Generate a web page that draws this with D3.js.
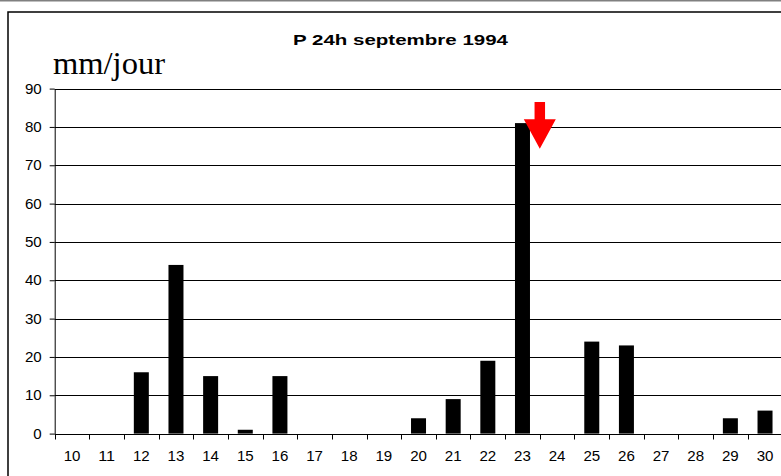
<!DOCTYPE html>
<html>
<head>
<meta charset="utf-8">
<script src="https://cdn.jsdelivr.net/npm/d3@7"></script>
<style>
  html, body { margin: 0; padding: 0; background: #fff; }
  svg { display: block; }
</style>
</head>
<body>
<svg id="chart" width="781" height="476"></svg>
<script>
// Daily rainfall, September 1994 (days 10 to 30)
const days = ["10","11","12","13","14","15","16","17","18","19","20",
              "21","22","23","24","25","26","27","28","29","30"];
const rain = [0, 0, 16, 44, 15, 1, 15, 0, 0, 0, 4,
              9, 19, 81, 0, 24, 23, 0, 0, 4, 6];
const yTicks = [0, 10, 20, 30, 40, 50, 60, 70, 80, 90];
const title = "P 24h septembre 1994";
const unit = "mm/jour";
// Marker arrow: placed at the start of day 24, pointing from 86.5 down to 74.3 mm
const arrowDay = "24";
const arrowTop = 86.5, arrowHeadBase = 82, arrowTip = 74.3;

(function draw() {
  const svg = d3.select("#chart");
  const W = 781, H = 476;
  const plotLeft = 54.7, plotTop = 88.6, plotBottom = 433.6;
  const step = 34.65;
  const plotRight = plotLeft + step * days.length;
  const sans = "Liberation Sans, Arial, sans-serif";
  const digitW = 8.4; // widened digit advance used by the axis labels

  // frame lines
  svg.append("line").attr("x1", 0).attr("x2", W).attr("y1", 0.5).attr("y2", 0.5)
    .attr("stroke", "#808080").attr("stroke-width", 2);
  svg.append("rect").attr("x", 8).attr("y", 12).attr("width", W + 10).attr("height", H)
    .attr("fill", "#fff").attr("stroke", "#000").attr("stroke-width", 1.5);

  const x = d3.scaleBand().domain(days).range([plotLeft, plotRight]).paddingInner(0).paddingOuter(0);
  const y = d3.scaleLinear().domain([0, 90]).range([plotBottom, plotTop]);

  // horizontal gridlines
  svg.append("g").selectAll("line").data(yTicks.filter(d => d > 0)).join("line")
    .attr("x1", plotLeft).attr("x2", W)
    .attr("y1", d => Math.round(y(d)) + 0.5).attr("y2", d => Math.round(y(d)) + 0.5)
    .attr("stroke", "#000").attr("stroke-width", 1);

  // bars
  const bw = 15;
  svg.append("g").selectAll("rect")
    .data(days.map((d, i) => ({ day: d, v: rain[i] })).filter(d => d.v > 0))
    .join("rect")
    .attr("x", d => x(d.day) + x.bandwidth() / 2 - bw / 2)
    .attr("y", d => y(d.v))
    .attr("width", bw)
    .attr("height", d => y(0) - y(d.v))
    .attr("fill", "#000");

  // y axis
  const yAxis = d3.axisLeft(y).tickValues(yTicks).tickSize(5).tickSizeOuter(0).tickPadding(8);
  const gy = svg.append("g").attr("transform", `translate(${plotLeft},0)`).call(yAxis);
  gy.select(".domain").attr("stroke", "#000");
  gy.selectAll("text").attr("font-family", sans)
    .attr("font-size", 14).attr("fill", "#000")
    .attr("textLength", d => String(d).length * digitW)
    .attr("lengthAdjust", "spacingAndGlyphs");

  // x axis: ticks on category boundaries
  const gx = svg.append("g").attr("transform", `translate(0,${Math.round(plotBottom) + 0.5})`);
  gx.append("line").attr("x1", plotLeft).attr("x2", W).attr("stroke", "#000");
  gx.selectAll("line.tick").data(days.map(d => x(d)).concat([plotRight])).join("line")
    .attr("class", "tick")
    .attr("x1", d => Math.round(d) + 0.5).attr("x2", d => Math.round(d) + 0.5)
    .attr("y1", 0).attr("y2", 5).attr("stroke", "#000");
  gx.selectAll("text").data(days).join("text")
    .attr("x", d => x(d) + x.bandwidth() / 2)
    .attr("y", 26.5)
    .attr("text-anchor", "middle")
    .attr("font-family", sans)
    .attr("font-size", 14)
    .attr("textLength", d => d.length * digitW)
    .attr("lengthAdjust", "spacingAndGlyphs")
    .text(d => d);

  // title
  svg.append("text").attr("x", 400.5).attr("y", 44.7).attr("text-anchor", "middle")
    .attr("font-family", sans)
    .attr("font-weight", "bold").attr("font-size", 15.5)
    .attr("textLength", 215).attr("lengthAdjust", "spacingAndGlyphs")
    .text(title);

  // unit label
  svg.append("text").attr("x", 53).attr("y", 73.5)
    .attr("font-family", "Liberation Serif, Times New Roman, serif")
    .attr("font-size", 30.5)
    .attr("textLength", 112).attr("lengthAdjust", "spacingAndGlyphs")
    .text(unit);

  // red arrow
  const ax = x(arrowDay);
  const shaftW = 10.5, headW = 32;
  const arrowPts = [
    [ax - shaftW / 2, y(arrowTop)],
    [ax + shaftW / 2, y(arrowTop)],
    [ax + shaftW / 2, y(arrowHeadBase)],
    [ax + headW / 2, y(arrowHeadBase)],
    [ax, y(arrowTip)],
    [ax - headW / 2, y(arrowHeadBase)],
    [ax - shaftW / 2, y(arrowHeadBase)]
  ];
  svg.append("path").attr("d", d3.line()(arrowPts) + "Z").attr("fill", "#ff0000");
})();
</script>
</body>
</html>
